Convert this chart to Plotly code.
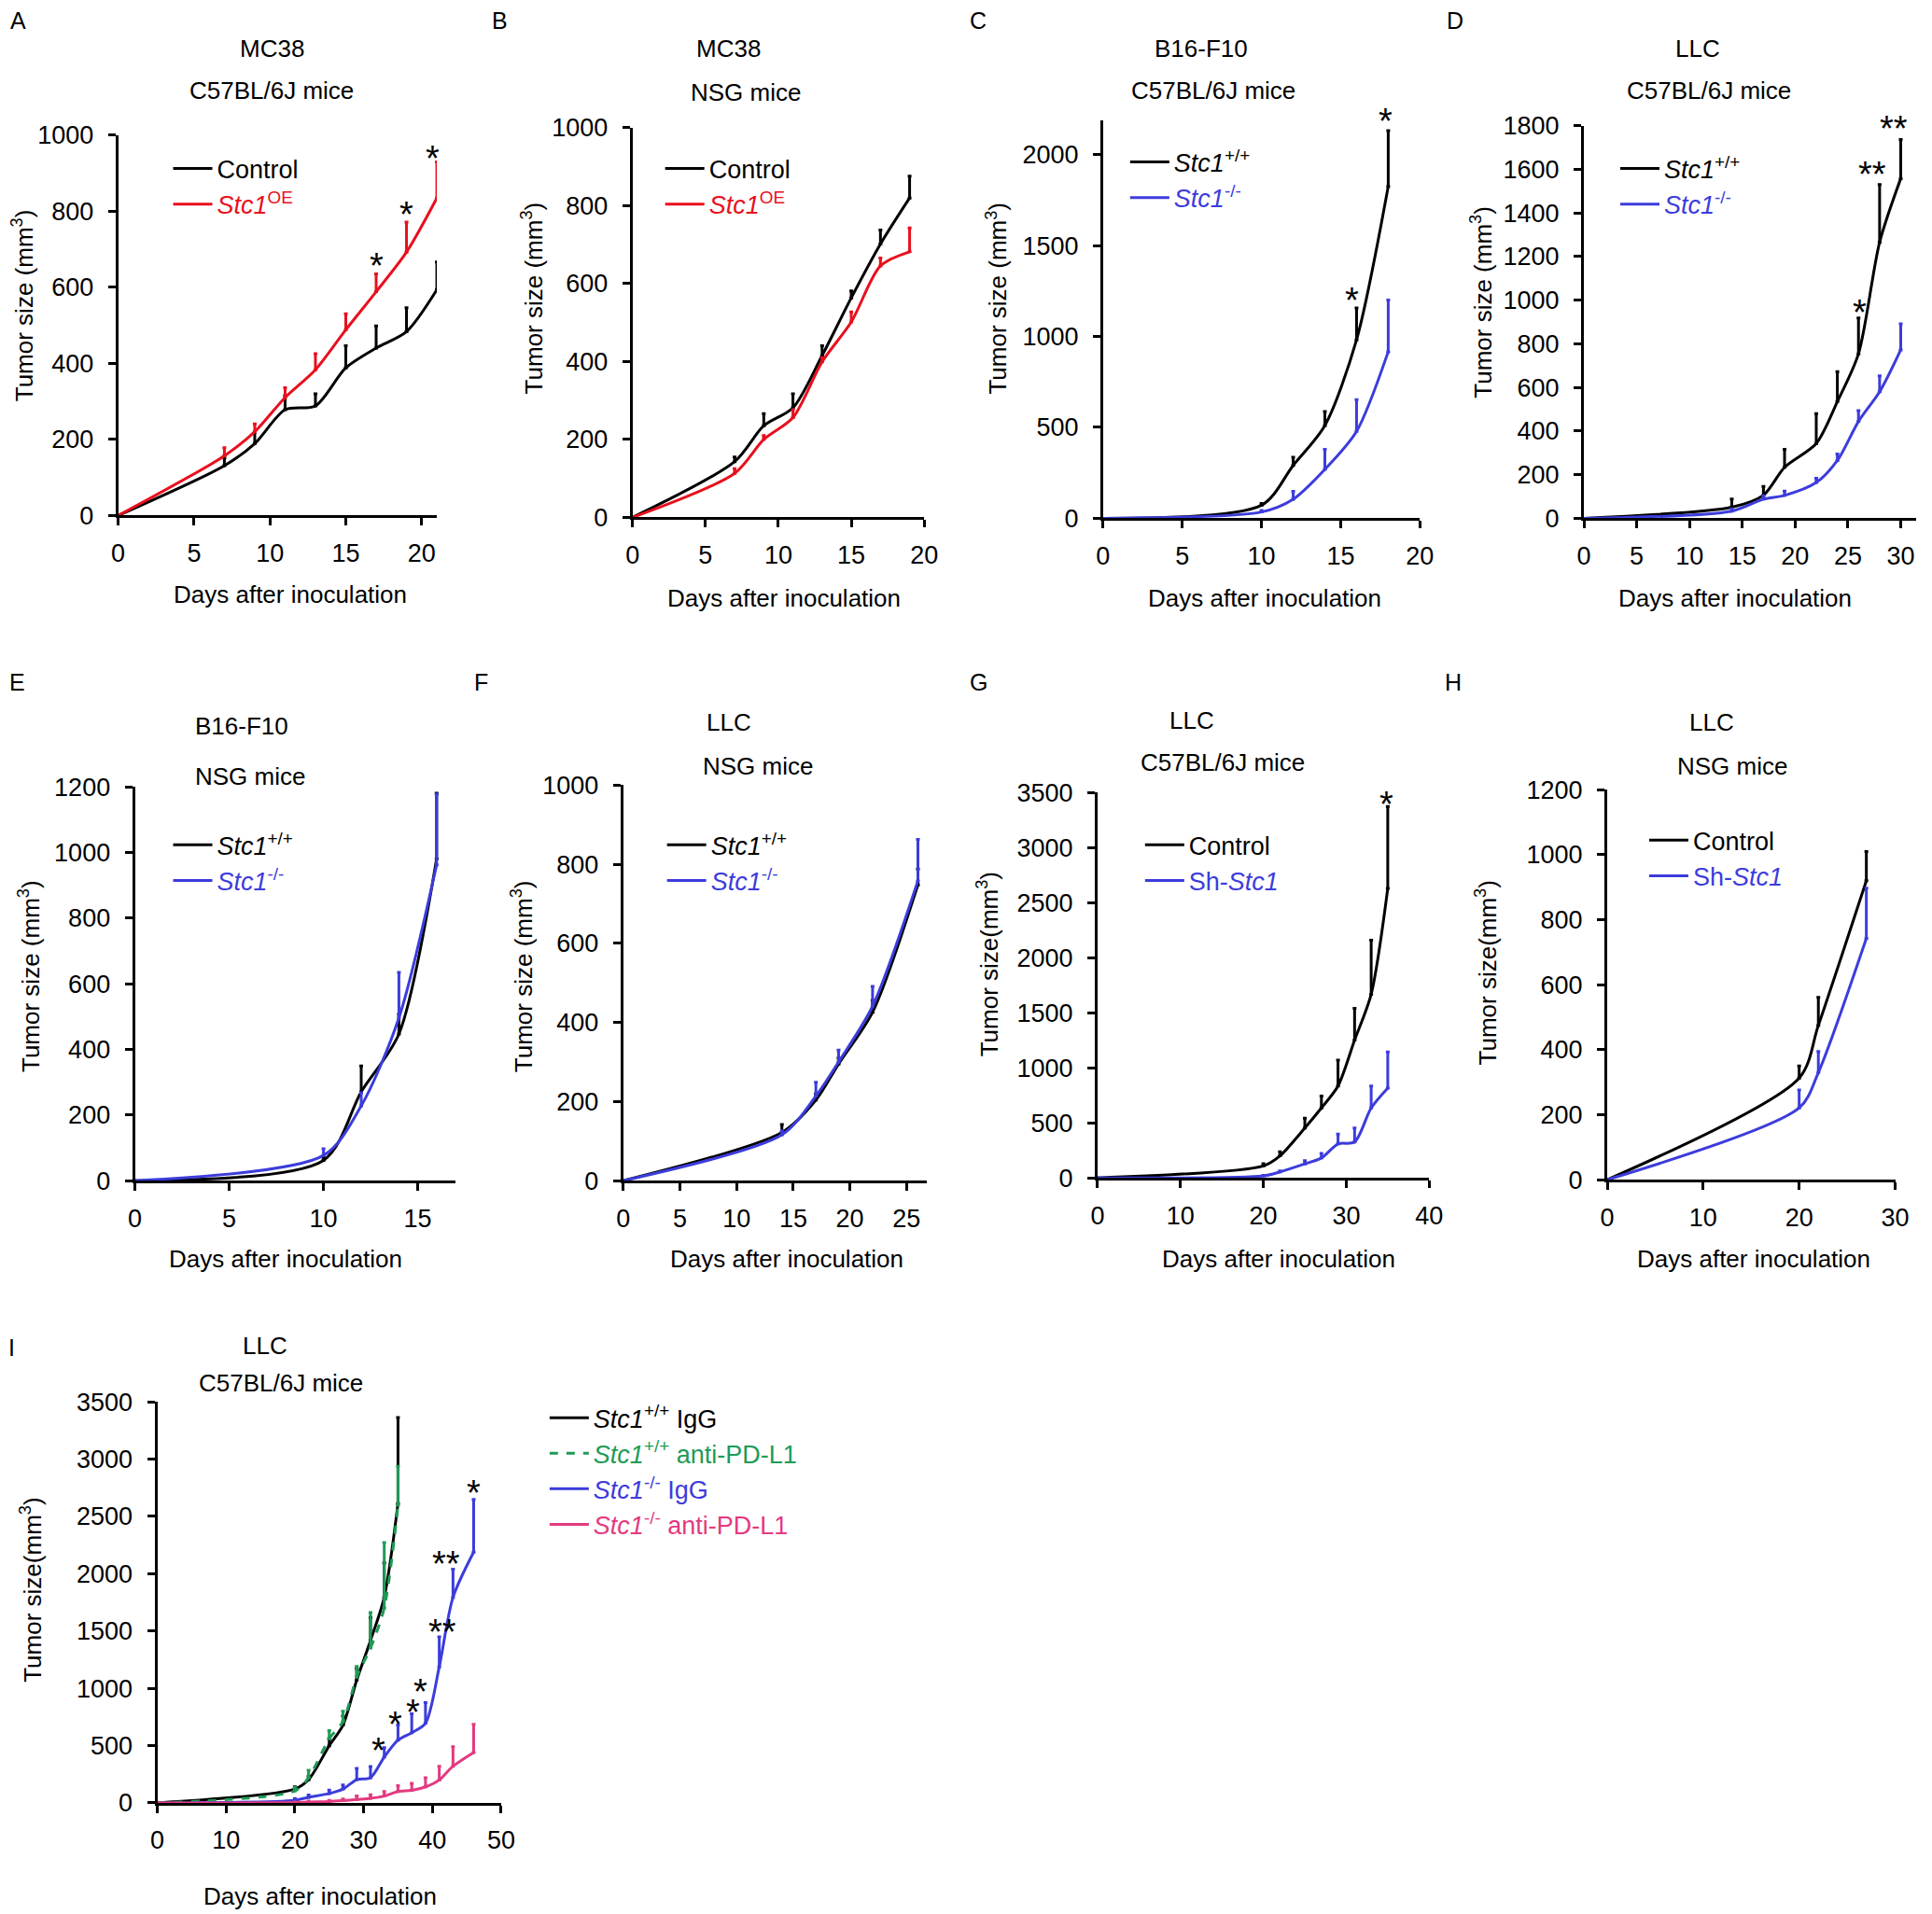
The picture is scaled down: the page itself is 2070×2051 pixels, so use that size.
import plotly.graph_objects as go

W, H = 2070, 2051
FONT = "Liberation Sans, Arial, Helvetica, sans-serif"
BLACK = "#000000"
RED = "#e8101e"
BLUE = "#3c3cdc"
GREEN = "#1e9b57"
PINK = "#e33a80"

# ---------------- data ----------------
A_days = [0, 7, 9, 11, 13, 15, 17, 19, 21]
A_ctrl = [0, 131, 189, 278, 288, 388, 440, 483, 593]
A_ctrl_err = [0, 20, 30, 37, 32, 58, 58, 63, 73]
A_oe = [0, 157, 220, 310, 383, 488, 588, 692, 834]
A_oe_err = [0, 21, 21, 26, 42, 42, 47, 79, 95]
A_stars = [(17.0, 682, "*"), (19.0, 818, "*"), (20.7, 965, "*")]

B_days = [0, 7, 9, 11, 13, 15, 17, 19]
B_ctrl = [0, 143, 235, 281, 415, 563, 701, 819]
B_ctrl_err = [0, 12, 31, 36, 25, 18, 36, 56]
B_oe = [0, 113, 200, 256, 399, 501, 645, 681]
B_oe_err = [0, 12, 10, 20, 10, 26, 20, 61]
B_stars = []

C_days = [0, 10, 12, 14, 16, 18]
C_wt = [0, 72, 291, 510, 981, 1825]
C_wt_err = [0, 10, 44, 77, 175, 306]
C_ko = [0, 35, 105, 269, 478, 916]
C_ko_err = [0, 8, 44, 110, 175, 284]
C_stars = [(15.7, 1255, "*"), (17.85, 2241, "*")]

D_days = [0, 14, 17, 19, 22, 24, 26, 28, 30]
D_wt = [0, 51, 106, 234, 343, 535, 754, 1265, 1557]
D_wt_err = [0, 37, 40, 82, 137, 137, 164, 265, 179]
D_ko = [0, 33, 88, 105, 164, 265, 444, 580, 772]
D_ko_err = [0, 10, 15, 20, 20, 30, 50, 73, 119]
D_stars = [(26.1, 991, "*"), (27.3, 1621, "**"), (29.3, 1831, "**")]

E_days = [0, 10, 12, 14, 16]
E_wt = [0, 62, 271, 447, 981]
E_wt_err = [0, 10, 79, 60, 200]
E_ko = [0, 77, 228, 496, 963]
E_ko_err = [0, 20, 40, 139, 215]
E_stars = []

F_days = [0, 14, 17, 19, 22, 26]
F_wt = [0, 122, 204, 295, 426, 748]
F_wt_err = [0, 20, 15, 15, 30, 40]
F_ko = [0, 116, 214, 300, 441, 758]
F_ko_err = [0, 10, 35, 30, 50, 105]
F_stars = []

G_days = [0, 20, 22, 25, 27, 29, 31, 33, 35]
G_ctrl = [0, 109, 200, 453, 635, 834, 1251, 1668, 2630]
G_ctrl_err = [0, 20, 36, 90, 109, 236, 290, 490, 743]
G_sh = [0, 18, 54, 127, 181, 308, 326, 635, 816]
G_sh_err = [0, 5, 10, 30, 40, 90, 127, 199, 327]
G_stars = [(34.9, 3482, "*")]

H_days = [0, 20, 22, 27]
H_ctrl = [0, 313, 475, 920]
H_ctrl_err = [0, 37, 86, 90]
H_sh = [0, 221, 330, 743]
H_sh_err = [0, 55, 65, 154]
H_stars = []

I_days_wt = [0, 20, 22, 25, 27, 29, 31, 33, 35]
I_wt_igg = [0, 121, 203, 499, 679, 1072, 1417, 1794, 2614]
I_wt_igg_err = [0, 20, 30, 60, 80, 100, 200, 300, 748]
I_wt_pd = [0, 105, 220, 560, 710, 1100, 1351, 1702, 2598]
I_wt_pd_err = [0, 30, 65, 70, 90, 90, 310, 570, 340]
I_days_ko = [0, 20, 22, 25, 27, 29, 31, 33, 35, 37, 39, 41, 43, 46]
I_ko_igg = [0, 23, 49, 82, 121, 203, 220, 400, 548, 613, 695, 1187, 1794, 2188]
I_ko_igg_err = [0, 15, 20, 30, 35, 99, 98, 82, 131, 164, 181, 263, 246, 459]
I_ko_pd = [0, 3, 8, 12, 20, 30, 40, 60, 100, 110, 140, 200, 320, 440]
I_ko_pd_err = [0, 5, 8, 10, 15, 30, 30, 40, 50, 60, 80, 120, 170, 246]
I_stars = [(32.2, 548, "*"), (34.6, 777, "*"), (37.2, 876, "*"), (38.3, 1056, "*"),
           (41.4, 1581, "**"), (42.0, 2171, "**"), (46.0, 2794, "*")]

STC_WT = "<i>Stc1</i><sup>+/+</sup>"
STC_KO = "<i>Stc1</i><sup>-/-</sup>"
STC_OE = "<i>Stc1</i><sup>OE</sup>"
SH = "Sh-<i>Stc1</i>"
YT1 = "Tumor size (mm<sup>3</sup>)"
YT2 = "Tumor size(mm<sup>3</sup>)"
XT = "Days after inoculation"

# ---------------- panel layout (pixel positions) ----------------
panels = [
    dict(letter="A", t=["MC38", "C57BL/6J mice"], box=(125, 467, 558, 150), xr=[0, 21], xd=5, yr=[0, 1000], yd=200,
         yt=YT1, pos=dict(L=(18, 21), t1=(290, 51), t2=(290, 96), leg=(185, 182), yt=(23, 333), xt=(310, 637)),
         series=[(A_days, A_ctrl, A_ctrl_err, "Control", BLACK, "solid"),
                 (A_days, A_oe, A_oe_err, STC_OE, RED, "solid")], stars=A_stars),
    dict(letter="B", t=["MC38", "NSG mice"], box=(677, 990, 560, 142), xr=[0, 20], xd=5, yr=[0, 1000], yd=200,
         yt=YT1, pos=dict(L=(535, 21), t1=(780, 51), t2=(798, 98), leg=(713, 182), yt=(570, 325), xt=(840, 641)),
         series=[(B_days, B_ctrl, B_ctrl_err, "Control", BLACK, "solid"),
                 (B_days, B_oe, B_oe_err, STC_OE, RED, "solid")], stars=B_stars),
    dict(letter="C", t=["B16-F10", "C57BL/6J mice"], box=(1182, 1522, 561, 134), xr=[0, 20], xd=5, yr=[0, 2190], yd=500,
         yt=YT1, pos=dict(L=(1048, 21), t1=(1287, 51), t2=(1300, 96), leg=(1212, 175), yt=(1068, 325), xt=(1355, 641)),
         series=[(C_days, C_wt, C_wt_err, STC_WT, BLACK, "solid"),
                 (C_days, C_ko, C_ko_err, STC_KO, BLUE, "solid")], stars=C_stars),
    dict(letter="D", t=["LLC", "C57BL/6J mice"], box=(1698, 2055, 561, 140), xr=[0, 31.5], xd=5, yr=[0, 1800], yd=200,
         yt=YT1, pos=dict(L=(1560, 21), t1=(1820, 51), t2=(1832, 96), leg=(1738, 182), yt=(1588, 329), xt=(1860, 641)),
         series=[(D_days, D_wt, D_wt_err, STC_WT, BLACK, "solid"),
                 (D_days, D_ko, D_ko_err, STC_KO, BLUE, "solid")], stars=D_stars),
    dict(letter="E", t=["B16-F10", "NSG mice"], box=(143, 487, 1271, 849), xr=[0, 17], xd=5, yr=[0, 1200], yd=200,
         yt=YT1, pos=dict(L=(17, 731), t1=(258, 778), t2=(267, 832), leg=(185, 907), yt=(30, 1052), xt=(305, 1349)),
         series=[(E_days, E_wt, E_wt_err, STC_WT, BLACK, "solid"),
                 (E_days, E_ko, E_ko_err, STC_KO, BLUE, "solid")], stars=E_stars),
    dict(letter="F", t=["LLC", "NSG mice"], box=(667, 993, 1271, 847), xr=[0, 26.8], xd=5, yr=[0, 1000], yd=200,
         yt=YT1, pos=dict(L=(515, 731), t1=(780, 774), t2=(812, 821), leg=(715, 907), yt=(558, 1052), xt=(843, 1349)),
         series=[(F_days, F_wt, F_wt_err, STC_WT, BLACK, "solid"),
                 (F_days, F_ko, F_ko_err, STC_KO, BLUE, "solid")], stars=F_stars),
    dict(letter="G", t=["LLC", "C57BL/6J mice"], box=(1176, 1532, 1268, 855), xr=[0, 40], xd=10, yr=[0, 3500], yd=500,
         yt=YT2, pos=dict(L=(1048, 731), t1=(1277, 772), t2=(1310, 817), leg=(1228, 907), yt=(1058, 1039), xt=(1370, 1349)),
         series=[(G_days, G_ctrl, G_ctrl_err, "Control", BLACK, "solid"),
                 (G_days, G_sh, G_sh_err, SH, BLUE, "solid")], stars=G_stars),
    dict(letter="H", t=["LLC", "NSG mice"], box=(1723, 2032, 1270, 852), xr=[0, 30], xd=10, yr=[0, 1200], yd=200,
         yt=YT2, pos=dict(L=(1558, 731), t1=(1835, 774), t2=(1857, 821), leg=(1769, 902), yt=(1593, 1048), xt=(1880, 1349)),
         series=[(H_days, H_ctrl, H_ctrl_err, "Control", BLACK, "solid"),
                 (H_days, H_sh, H_sh_err, SH, BLUE, "solid")], stars=H_stars),
    dict(letter="I", t=["LLC", "C57BL/6J mice"], box=(167, 536, 1938, 1508), xr=[0, 50], xd=10, yr=[0, 3500], yd=500,
         yt=YT2, pos=dict(L=(11, 1444), t1=(283, 1442), t2=(300, 1482), leg=(589, 1521), yt=(31, 1710), xt=(342, 2032)),
         series=[(I_days_wt, I_wt_igg, I_wt_igg_err, STC_WT + " IgG", BLACK, "solid"),
                 (I_days_wt, I_wt_pd, I_wt_pd_err, STC_WT + " anti-PD-L1", GREEN, "dash"),
                 (I_days_ko, I_ko_igg, I_ko_igg_err, STC_KO + " IgG", BLUE, "solid"),
                 (I_days_ko, I_ko_pd, I_ko_pd_err, STC_KO + " anti-PD-L1", PINK, "solid")], stars=I_stars),
]

fig = go.Figure()
layout = dict(width=W, height=H, margin=dict(l=0, r=0, t=0, b=0), autosize=False,
              paper_bgcolor="white", plot_bgcolor="rgba(0,0,0,0)",
              font=dict(family=FONT, size=26, color=BLACK))
annotations = []

# empirical correction between requested and photographed positions
SX, TX, SY, TY = 0.9905, 6.2, 0.9857, 20.4
TEXT_DY = 6  # text annotations sit a little lower than their measured centres


def clamp(v):
    return max(0.0, min(1.0, v))


def px(x):
    return clamp(((x - TX) / SX) / W)


def py(y):
    return clamp(1 - ((y - TY) / SY) / H)


STAR_EXT = 90  # extra room above each plot for significance marks
n = len(panels)
for i, p in enumerate(panels):
    k = "" if i == 0 else str(i + 1)
    xa, ya = "x" + k, "y" + k
    sk = str(n + 1 + i)
    lg = "legend" + k
    x0, x1, yb, yt = p["box"]
    axis_common = dict(showline=True, linewidth=3, linecolor=BLACK, ticks="outside", ticklen=8,
                       tickwidth=3, tickcolor=BLACK, showgrid=False, zeroline=False,
                       tickfont=dict(family=FONT, size=27, color=BLACK), fixedrange=True)
    layout["xaxis" + k] = dict(domain=[px(x0), px(x1)], range=p["xr"], tick0=0, dtick=p["xd"],
                               anchor=ya, ticklabelstandoff=6, **axis_common)
    layout["yaxis" + k] = dict(domain=[py(yb), py(yt)], range=p["yr"], tick0=0, dtick=p["yd"],
                               anchor=xa, ticklabelstandoff=10, **axis_common)
    # invisible companion axis with the same scale but extra headroom (for stars)
    top = p["yr"][1] * (yb - yt + STAR_EXT) / (yb - yt)
    layout["yaxis" + sk] = dict(domain=[py(yb), py(yt - STAR_EXT)], range=[0, top], anchor=xa,
                                visible=False, fixedrange=True)
    lx, ly = p["pos"]["leg"]
    layout[lg] = dict(x=px(lx - 6), y=py(ly - 20), xanchor="left", yanchor="top", itemwidth=42,
                      bgcolor="rgba(0,0,0,0)", borderwidth=0, tracegroupgap=0,
                      font=dict(family=FONT, size=27, color=BLACK), itemclick=False, itemdoubleclick=False)
    for (days, vals, err, name, color, dash) in p["series"]:
        fig.add_trace(go.Scatter(
            x=days, y=vals, mode="lines", xaxis=xa, yaxis=ya, legend=lg,
            name="<span style='color:%s'>%s</span>" % (color, name),
            line=dict(color=color, width=3, dash=dash, shape="spline", smoothing=0.8),
            error_y=dict(type="data", symmetric=False, array=err, arrayminus=[0] * len(err),
                         color=color, thickness=3, width=2),
            showlegend=True, hoverinfo="skip"))
    if p["stars"]:
        # invisible anchor trace so the companion axis is instantiated
        fig.add_trace(go.Scatter(x=[s[0] for s in p["stars"]], y=[s[1] for s in p["stars"]],
                                 mode="markers", marker=dict(opacity=0, size=1), xaxis=xa, yaxis="y" + sk,
                                 showlegend=False, hoverinfo="skip"))
        for (sx, sy, st) in p["stars"]:
            annotations.append(dict(x=sx, y=sy, xref=xa, yref="y" + sk, text=st, showarrow=False,
                                    xanchor="center", yanchor="middle", yshift=-11,
                                    font=dict(family=FONT, size=38, color=BLACK)))
    pos = p["pos"]
    annotations.append(dict(x=px(pos["L"][0]), y=py(pos["L"][1] + TEXT_DY), xref="paper", yref="paper",
                            text=p["letter"], showarrow=False, xanchor="center", yanchor="middle",
                            font=dict(family=FONT, size=25, color=BLACK)))
    for key, txt in (("t1", p["t"][0]), ("t2", p["t"][1])):
        annotations.append(dict(x=px(pos[key][0]), y=py(pos[key][1] + TEXT_DY), xref="paper", yref="paper",
                                text=txt, showarrow=False, xanchor="center", yanchor="middle",
                                font=dict(family=FONT, size=26, color=BLACK)))
    annotations.append(dict(x=px(pos["yt"][0]), y=py(pos["yt"][1]), xref="paper", yref="paper", text=p["yt"],
                            showarrow=False, xanchor="center", yanchor="middle", textangle=-90,
                            font=dict(family=FONT, size=26, color=BLACK)))
    annotations.append(dict(x=px(pos["xt"][0]), y=py(pos["xt"][1] + TEXT_DY), xref="paper", yref="paper",
                            text=XT, showarrow=False, xanchor="center", yanchor="middle",
                            font=dict(family=FONT, size=26, color=BLACK)))

layout["annotations"] = annotations
fig.update_layout(**layout)
fig.write_html("out.html", config={"displayModeBar": False},
               post_script="document.body.style.margin='0';document.body.style.overflow='hidden';")
